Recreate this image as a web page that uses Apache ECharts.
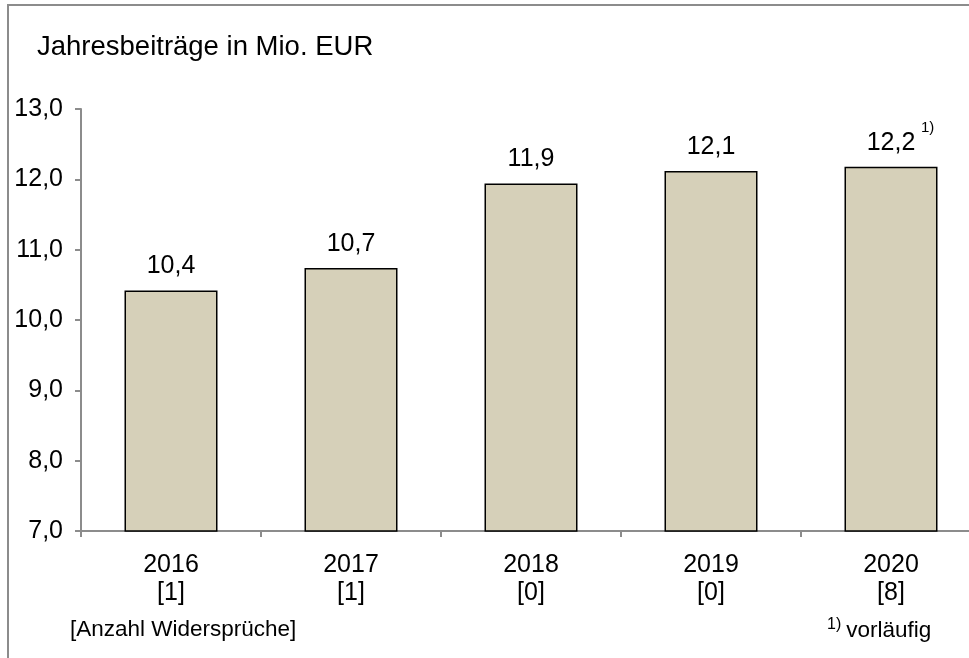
<!DOCTYPE html>
<html>
<head>
<meta charset="utf-8">
<script src="https://cdn.jsdelivr.net/npm/echarts@6/dist/echarts.min.js"></script>
<style>
html,body{margin:0;padding:0;background:#fff;overflow:hidden;width:969px;height:658px;}
#c{width:1000px;height:658px;}
</style>
</head>
<body>
<div id="c"></div>
<script>
const years = ['2016','2017','2018','2019','2020'];
const objections = ['[1]','[1]','[0]','[0]','[8]'];
const values = [10.42, 10.74, 11.94, 12.12, 12.18];
const footnoteIdx = [4];
const yMin = 7, yMax = 13, yStep = 1;

const F = '"Liberation Sans", Arial, sans-serif';
const chart = echarts.init(document.getElementById('c'), null, {renderer:'canvas'});
const fmt = v => v.toFixed(1).replace('.', ',');

chart.setOption({
  animation:false,
  backgroundColor:'#fff',
  grid:{left:81, top:109, width:900, height:422, containLabel:false},
  xAxis:{
    type:'category',
    data: years.map((y,i)=>y+'\n'+objections[i]),
    axisLine:{lineStyle:{color:'#8c8c8c', width:2}},
    axisTick:{show:true, alignWithLabel:false, length:6, lineStyle:{color:'#8c8c8c', width:2}},
    axisLabel:{color:'#000', fontFamily:F, fontSize:25, lineHeight:28, margin:20}
  },
  yAxis:{
    type:'value', min:yMin, max:yMax, interval:yStep,
    splitLine:{show:false},
    axisLine:{show:true, lineStyle:{color:'#8c8c8c', width:2}},
    axisTick:{show:true, inside:false, length:6, lineStyle:{color:'#8c8c8c', width:2}},
    axisLabel:{color:'#000', fontFamily:F, fontSize:25, margin:18, formatter:v=>fmt(v)}
  },
  series:[{
    type:'bar',
    data: values,
    barWidth:93,
    itemStyle:{color:'#d6d0b9', borderColor:'#000', borderWidth:1.5},
    label:{
      show:true, position:'top', distance:2,
      color:'#000', fontFamily:F, fontSize:25,
      formatter: p => footnoteIdx.includes(p.dataIndex)
        ? '{h| }{v|'+fmt(p.value)+'}{s|1)}'
        : '{v|'+fmt(p.value)+'}',
      rich:{
        v:{fontFamily:F, fontSize:25, lineHeight:44, color:'#000'},
        s:{fontFamily:F, fontSize:15, lineHeight:17, color:'#000', verticalAlign:'top', width:19, align:'right'},
        h:{fontFamily:F, fontSize:15, lineHeight:15, color:'#000', width:19}
      }
    }
  }],
  graphic:[
    {type:'line', shape:{x1:8, y1:5, x2:1000, y2:5}, style:{stroke:'#8c8c8c', lineWidth:2}},
    {type:'line', shape:{x1:8, y1:4, x2:8, y2:658}, style:{stroke:'#8c8c8c', lineWidth:2}},
    {type:'text', left:37, top:33, style:{text:'Jahresbeiträge in Mio. EUR', font:'27.5px '+F, fill:'#000'}},
    {type:'text', left:70, top:618, style:{text:'[Anzahl Widersprüche]', font:'22.5px '+F, fill:'#000'}},
    {type:'text', left:827, top:617, style:{
      text:'{s|1)}{v|vorläufig}',
      rich:{s:{fontFamily:F, fontSize:16, fill:'#000', padding:[0,5,12,0]}, v:{fontFamily:F, fontSize:22.5, fill:'#000'}}
    }}
  ]
});
</script>
</body>
</html>
